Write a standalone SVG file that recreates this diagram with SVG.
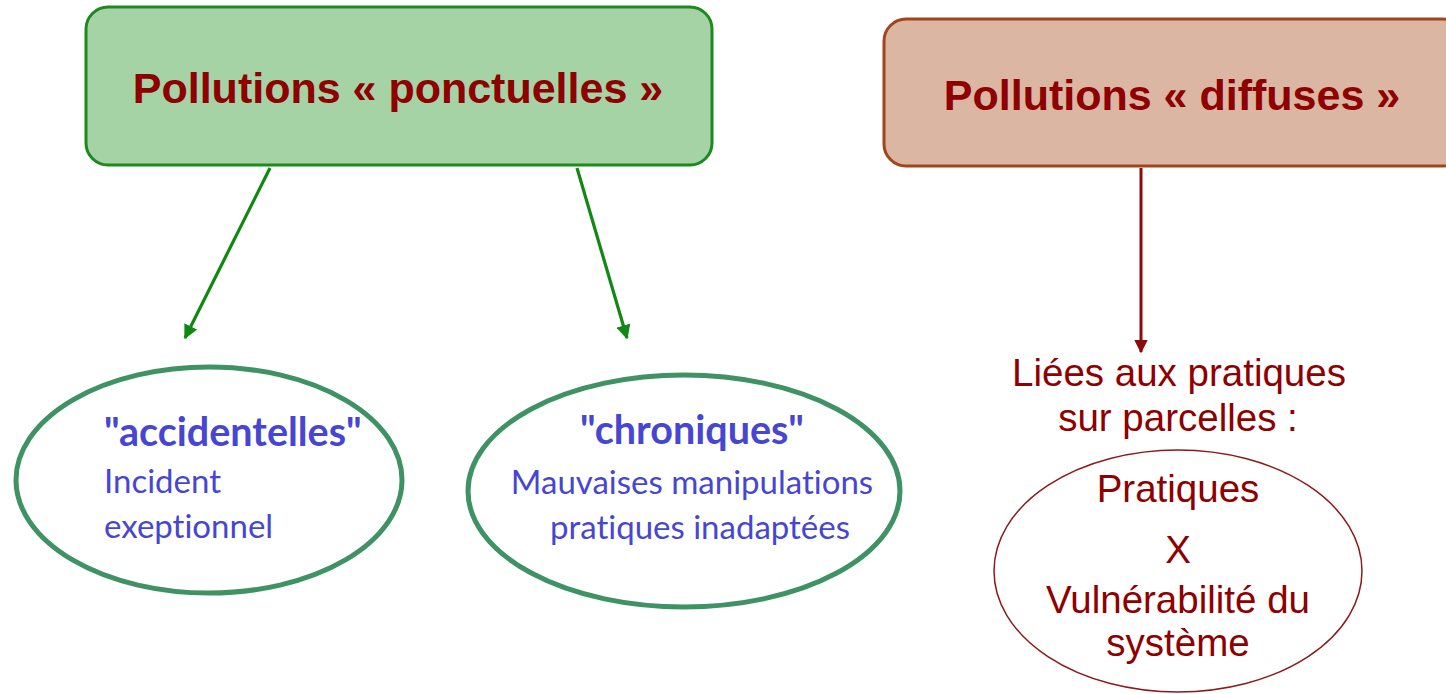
<svg xmlns="http://www.w3.org/2000/svg" width="1446" height="694" viewBox="0 0 1446 694">
<style>
.title{font-family:"Liberation Sans",Arial,sans-serif;font-weight:bold;font-size:43px;fill:#8f0000;text-anchor:middle}
.red{font-family:"Liberation Sans",Arial,sans-serif;font-size:38.5px;fill:#8f0000;text-anchor:middle}
.blueb{font-family:Lato,"Open Sans",sans-serif;font-weight:bold;font-size:39.5px;fill:#4646d2;font-variant-ligatures:none}
.blue{font-family:Lato,"Open Sans",sans-serif;font-size:33px;fill:#4646d2;font-variant-ligatures:none}
.gell{fill:#fff;stroke:#3e9263;stroke-width:5}
</style>
<defs>
<marker id="ag" viewBox="0 0 10 10" refX="9" refY="5" markerWidth="4.5" markerHeight="4.5" orient="auto" markerUnits="strokeWidth"><path d="M0,0 L10,5 L0,10 z" fill="#118811"/></marker>
<marker id="ar" viewBox="0 0 10 10" refX="9" refY="5" markerWidth="4.5" markerHeight="4.5" orient="auto" markerUnits="strokeWidth"><path d="M0,0 L10,5 L0,10 z" fill="#8b0a0a"/></marker>
</defs>
<rect width="1446" height="694" fill="#fff"/>
<g id="connectors">
<line x1="270" y1="168" x2="185" y2="338" stroke="#118811" stroke-width="3.2" marker-end="url(#ag)"/>
<line x1="577" y1="168" x2="627" y2="338" stroke="#118811" stroke-width="3.2" marker-end="url(#ag)"/>
<line x1="1141" y1="168" x2="1141" y2="352" stroke="#8b0a0a" stroke-width="3" marker-end="url(#ar)"/>
</g>
<g id="ponctuelles">
<rect x="86" y="7" width="626" height="158" rx="22" fill="#a5d3a6" stroke="#1e8a1e" stroke-width="3"/>
<text class="title" x="398" y="103">Pollutions « ponctuelles »</text>
</g>
<g id="diffuses">
<rect x="884" y="19" width="580" height="147" rx="22" fill="#dbb6a2" stroke="#a3441d" stroke-width="3"/>
<text class="title" x="1172" y="110">Pollutions « diffuses »</text>
</g>
<g id="accidentelles">
<ellipse class="gell" cx="209" cy="480" rx="193" ry="113"/>
<text class="blueb" x="104" y="446">"accidentelles"</text>
<text class="blue" x="104" y="493">Incident</text>
<text class="blue" x="104" y="538">exeptionnel</text>
</g>
<g id="chroniques">
<ellipse class="gell" cx="684" cy="491" rx="216" ry="116"/>
<text class="blueb" x="692" y="444" text-anchor="middle">"chroniques"</text>
<text class="blue" x="692" y="494" text-anchor="middle">Mauvaises manipulations</text>
<text class="blue" x="700" y="539" text-anchor="middle">pratiques inadaptées</text>
</g>
<g id="liees">
<text class="red" x="1179" y="386">Liées aux pratiques</text>
<text class="red" x="1178" y="431">sur parcelles :</text>
</g>
<g id="pratiques">
<ellipse cx="1178" cy="571" rx="184" ry="121" fill="#fff" stroke="#8b1a1a" stroke-width="1.5"/>
<text class="red" x="1178" y="502">Pratiques</text>
<text class="red" x="1178" y="563">X</text>
<text class="red" x="1178" y="613">Vulnérabilité du</text>
<text class="red" x="1178" y="656">système</text>
</g>
</svg>
